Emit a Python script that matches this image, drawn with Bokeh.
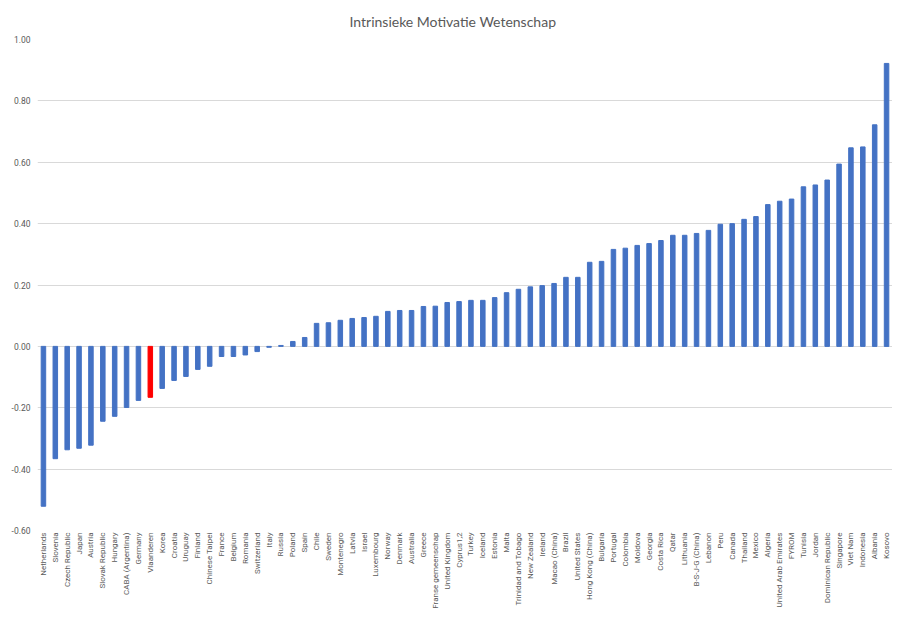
from math import pi
from bokeh.plotting import figure
from bokeh.models import ColumnDataSource, FactorRange, Range1d, FixedTicker, NumeralTickFormatter
from bokeh.embed import file_html
from bokeh.resources import INLINE

countries = [
    "Netherlands", "Slovenia", "Czech Republic", "Japan", "Austria", "Slovak Republic",
    "Hungary", "CABA (Argentina)", "Germany", "Vlaanderen", "Korea", "Croatia", "Uruguay",
    "Finland", "Chinese Taipei", "France", "Belgium", "Romania", "Switzerland", "Italy",
    "Russia", "Poland", "Spain", "Chile", "Sweden", "Montenegro", "Latvia", "Israel",
    "Luxembourg", "Norway", "Denmark", "Australia", "Greece", "Franse gemeenschap",
    "United Kingdom", "Cyprus1,2", "Turkey", "Iceland", "Estonia", "Malta",
    "Trinidad and Tobago", "New Zealand", "Ireland", "Macao (China)", "Brazil",
    "United States", "Hong Kong (China)", "Bulgaria", "Portugal", "Colombia", "Moldova",
    "Georgia", "Costa Rica", "Qatar", "Lithuania", "B-S-J-G (China)", "Lebanon", "Peru",
    "Canada", "Thailand", "Mexico", "Algeria", "United Arab Emirates", "FYROM", "Tunisia",
    "Jordan", "Dominican Republic", "Singapore", "Viet Nam", "Indonesia", "Albania", "Kosovo",
]
values = [
    -0.521, -0.366, -0.337, -0.332, -0.322, -0.244,
    -0.228, -0.199, -0.176, -0.166, -0.137, -0.111, -0.098,
    -0.075, -0.065, -0.033, -0.033, -0.028, -0.017, -0.003,
    0.003, 0.016, 0.029, 0.075, 0.077, 0.085, 0.091, 0.094,
    0.098, 0.114, 0.117, 0.117, 0.130, 0.131,
    0.143, 0.146, 0.150, 0.150, 0.159, 0.175,
    0.186, 0.194, 0.198, 0.205, 0.225,
    0.225, 0.274, 0.277, 0.316, 0.320, 0.329,
    0.335, 0.345, 0.362, 0.362, 0.368, 0.378, 0.398,
    0.400, 0.414, 0.423, 0.462, 0.473, 0.480, 0.520,
    0.526, 0.542, 0.594, 0.647, 0.650, 0.722, 0.922,
]
highlight = "Vlaanderen"
y_ticks = [-0.6, -0.4, -0.2, 0.0, 0.2, 0.4, 0.6, 0.8, 1.0]
title_text = "Intrinsieke Motivatie Wetenschap"

colors = ["#FF0000" if c == highlight else "#4472C4" for c in countries]
src = ColumnDataSource(dict(x=countries, top=values, color=colors))

p = figure(
    width=892, height=612,
    x_range=FactorRange(factors=countries),
    y_range=Range1d(-0.6, 1.0),
    output_backend="svg", toolbar_location=None,
    title=title_text,
    min_border_left=37, min_border_right=0, min_border_top=39, min_border_bottom=82,
)
p.vbar(x="x", top="top", bottom=0, width=0.38, color="color", source=src)

p.title.align = "left"
p.title.offset = 312
p.title.standoff = 20
p.title.text_font = "Lato"
p.title.text_font_size = "14px"
p.title.text_font_style = "normal"
p.title.text_color = "#595959"

p.outline_line_color = None
p.xgrid.grid_line_color = None
p.ygrid.grid_line_color = "#D9D9D9"
p.ygrid.grid_line_width = 1

p.yaxis.ticker = FixedTicker(ticks=y_ticks)
p.yaxis.formatter = NumeralTickFormatter(format="0.00")
p.yaxis.axis_line_color = None
p.yaxis.major_tick_line_color = None
p.yaxis.minor_tick_line_color = None
p.yaxis.major_tick_out = 0
p.yaxis.major_label_standoff = 7
p.yaxis.major_label_text_font = "Roboto"
p.yaxis.major_label_text_font_size = "8.5px"
p.yaxis.major_label_text_color = "#595959"

p.xaxis.axis_line_color = None
p.xaxis.major_tick_line_color = None
p.xaxis.major_tick_out = 0
p.xaxis.major_label_orientation = pi / 2
p.xaxis.major_label_standoff = 2
p.xaxis.major_label_text_font = "Roboto"
p.xaxis.major_label_text_font_size = "8px"
p.xaxis.major_label_text_color = "#595959"

open("out.html", "w").write(file_html(p, INLINE))
